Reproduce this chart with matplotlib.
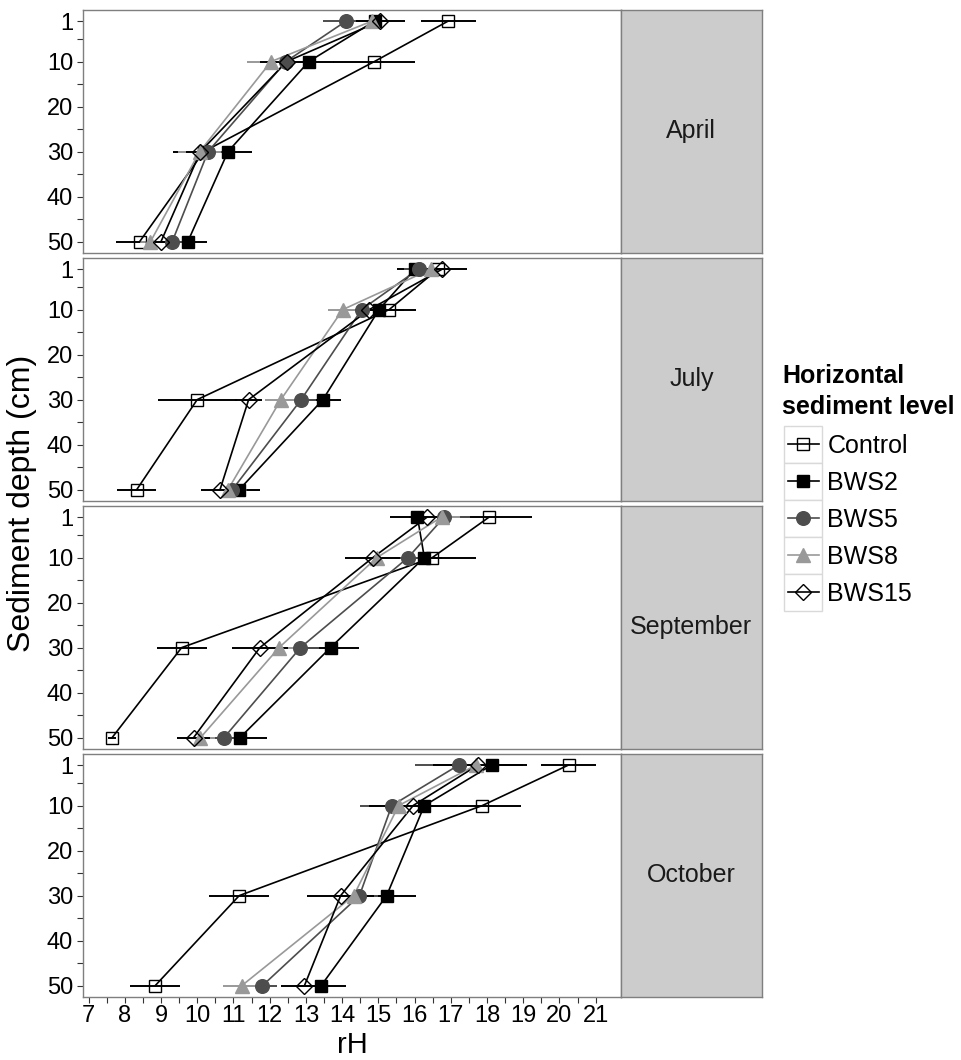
import matplotlib
matplotlib.use('Agg')
import matplotlib.pyplot as plt
from matplotlib.patches import Rectangle
from matplotlib.lines import Line2D

plt.rcParams['font.family'] = ['Liberation Sans', 'DejaVu Sans']

# ---------------- data ----------------
months = ['April', 'July', 'September', 'October']
depths = [1, 10, 30, 50]
series = ['Control', 'BWS2', 'BWS5', 'BWS8', 'BWS15']

# rows: April, July, September, October ; columns: depth 1, 10, 30, 50
control_rh = [[16.93, 14.89, 10.18, 8.41],
              [16.65, 15.30, 10.00, 8.33],
              [18.06, 16.49, 9.57, 7.65],
              [20.25, 17.87, 11.16, 8.84]]
control_err = [[0.76, 1.13, 0.84, 0.66],
               [0.30, 0.73, 1.09, 0.53],
               [1.18, 1.21, 0.69, 0.10],
               [0.75, 1.08, 0.83, 0.69]]

bws2_rh = [[14.90, 13.08, 10.85, 9.74],
           [16.01, 15.02, 13.47, 11.16],
           [16.08, 16.27, 13.68, 11.18],
           [18.13, 16.27, 15.23, 13.42]]
bws2_err = [[0.40, 0.70, 0.67, 0.52],
            [0.50, 0.70, 0.50, 0.57],
            [0.76, 0.50, 0.79, 0.76],
            [0.97, 0.80, 0.81, 0.70]]

bws5_rh = [[14.11, 12.45, 10.30, 9.31],
           [16.11, 14.54, 12.87, 10.97],
           [16.82, 15.82, 12.85, 10.74],
           [17.22, 15.37, 14.48, 11.80]]
bws5_err = [[0.63, 0.50, 0.50, 0.30],
            [0.40, 0.40, 0.40, 0.40],
            [0.72, 0.50, 0.50, 0.40],
            [1.22, 0.88, 0.50, 0.40]]

bws8_rh = [[14.83, 12.04, 10.07, 8.71],
           [16.46, 14.02, 12.31, 10.85],
           [16.75, 14.96, 12.26, 10.09],
           [17.70, 15.56, 14.32, 11.23]]
bws8_err = [[0.30, 0.67, 0.60, 0.30],
            [0.40, 0.41, 0.43, 0.40],
            [0.50, 0.50, 0.50, 0.40],
            [0.50, 0.50, 0.50, 0.52]]

bws15_rh = [[15.05, 12.47, 10.09, 9.00],
            [16.77, 14.75, 11.42, 10.63],
            [16.35, 14.85, 11.73, 9.90],
            [17.75, 15.96, 13.96, 12.96]]
bws15_err = [[0.68, 0.74, 0.40, 0.30],
             [0.69, 0.40, 0.38, 0.52],
             [0.50, 0.76, 0.78, 0.45],
             [1.24, 1.21, 0.92, 0.66]]

x_ticks = [7 + 0.5 * i for i in range(29)]
y_ticks = [1, 5, 10, 15, 20, 25, 30, 35, 40, 45, 50]
y_labels = ['1', '', '10', '', '20', '', '30', '', '40', '', '50']

values = {'Control': (control_rh, control_err), 'BWS2': (bws2_rh, bws2_err),
          'BWS5': (bws5_rh, bws5_err), 'BWS8': (bws8_rh, bws8_err),
          'BWS15': (bws15_rh, bws15_err)}

styles = {
    'Control': dict(color='black', marker='s', mfc='none', mec='black', ms=9.0, mew=1.0),
    'BWS2': dict(color='black', marker='s', mfc='black', mec='black', ms=9.0, mew=1.0),
    'BWS5': dict(color='#4d4d4d', marker='o', mfc='#4d4d4d', mec='#4d4d4d', ms=9.8, mew=1.0),
    'BWS8': dict(color='#999999', marker='^', mfc='#999999', mec='#999999', ms=10.2, mew=1.0),
    'BWS15': dict(color='black', marker='D', mfc='none', mec='black', ms=8.0, mew=1.0),
}

# ---------------- layout ----------------
W, H = 961, 1060
fig = plt.figure(figsize=(W / 100, H / 100), dpi=100)

px_left, px_right, px_strip = 83.3, 620.7, 762.0
panel_tops = [10.0, 258.0, 506.0, 754.0]
panel_h = 242.7

TICK_COL = '#333333'
BORDER = '#7f7f7f'

for mi, month in enumerate(months):
    top = panel_tops[mi]
    ax = fig.add_axes([px_left / W, 1 - (top + panel_h) / H,
                       (px_right - px_left) / W, panel_h / H])
    # error bars
    for s in series:
        rh, err = values[s]
        st = styles[s]
        for d, x, e in zip(depths, rh[mi], err[mi]):
            ax.plot([x - e, x + e], [d, d], color=st['color'], lw=1.4,
                    solid_capstyle='butt', zorder=2)
    # lines
    for s in series:
        rh, err = values[s]
        ax.plot(rh[mi], depths, color=styles[s]['color'], lw=1.2, zorder=3)
    # points
    for s in series:
        rh, err = values[s]
        st = styles[s]
        ax.plot(rh[mi], depths, linestyle='none', marker=st['marker'],
                ms=st['ms'], mfc=st['mfc'], mec=st['mec'], mew=st['mew'], zorder=4)

    ax.set_xlim(6.856, 21.69)
    ax.set_ylim(52.45, -1.45)
    ax.set_yticks(y_ticks)
    ax.set_yticklabels(y_labels)
    ax.set_xticks(x_ticks)
    if mi == 3:
        ax.set_xticklabels([str(int(t)) if t == int(t) else '' for t in x_ticks])
        ax.tick_params(axis='x', length=4.3, width=0.8, color=TICK_COL,
                       labelsize=17, pad=2, labelcolor='black')
    else:
        ax.tick_params(axis='x', length=0, labelbottom=False)
    ax.tick_params(axis='y', length=4.3, width=0.8, color=TICK_COL,
                   labelsize=17, pad=3, labelcolor='black')
    for sp in ax.spines.values():
        sp.set_color(BORDER)
        sp.set_linewidth(1.0)

    # strip
    sax = fig.add_axes([px_right / W, 1 - (top + panel_h) / H,
                        (px_strip - px_right) / W, panel_h / H])
    sax.set_facecolor('#cccccc')
    sax.set_xticks([])
    sax.set_yticks([])
    for sp in sax.spines.values():
        sp.set_color(BORDER)
        sp.set_linewidth(1.0)
    sax.text(0.5, 0.5, month, transform=sax.transAxes, ha='center', va='center',
             fontsize=18, color='#1a1a1a')

# axis titles
fig.text(22 / W, 1 - 503.5 / H, 'Sediment depth (cm)', rotation=90,
         ha='center', va='center', fontsize=23)
fig.text(352 / W, 1 - 1053 / H, 'rH', ha='center', va='baseline', fontsize=21)

# ---------------- legend (manual, in pixel coordinates) ----------------
lax = fig.add_axes([0, 0, 1, 1], facecolor='none')
lax.set_xlim(0, W)
lax.set_ylim(H, 0)
lax.axis('off')
lax.text(782, 383, 'Horizontal', fontsize=18, fontweight='bold', va='baseline', ha='left')
lax.text(782, 414, 'sediment level', fontsize=18, fontweight='bold', va='baseline', ha='left')
key_x0, key_x1 = 784.3, 822.3
key_top, key_h = 425.7, 37.05
for i, s in enumerate(series):
    st = styles[s]
    y0 = key_top + i * key_h
    lax.add_patch(Rectangle((key_x0, y0), key_x1 - key_x0, key_h, facecolor='white',
                            edgecolor='#d9d9d9', lw=1.0))
    yc = y0 + key_h / 2
    lax.add_line(Line2D([788.3, 819.0], [yc, yc], color=st['color'], lw=1.2))
    lax.plot([803.3], [yc], linestyle='none', marker=st['marker'], ms=st['ms'],
             mfc=st['mfc'], mec=st['mec'], mew=st['mew'])
    lax.text(827.3, yc + 9, s, fontsize=18, va='baseline', ha='left')

fig.savefig('out.png', dpi=100)
